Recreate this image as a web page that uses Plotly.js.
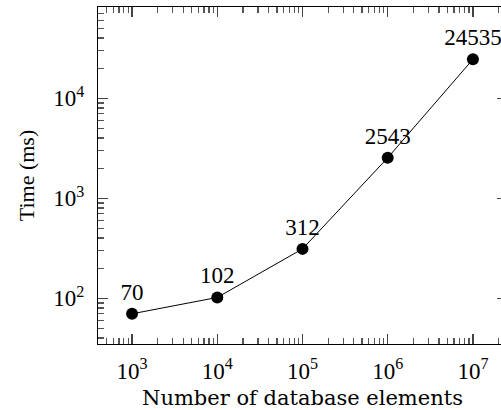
<!DOCTYPE html>
<html>
<head>
<meta charset="utf-8">
<script src="https://cdn.plot.ly/plotly-3.0.1.min.js"></script>
<style>
html,body{margin:0;padding:0;overflow:hidden;background:#fff;}
#chart{width:510px;height:410px;}
</style>
</head>
<body>
<div id="chart"></div>
<script>
const elements = [1e3, 1e4, 1e5, 1e6, 1e7];
const timesMs = [70, 102, 312, 2543, 24535];
const xTickVals = [1e3, 1e4, 1e5, 1e6, 1e7];
const xTickText = ["10<sup>3</sup>", "10<sup>4</sup>", "10<sup>5</sup>", "10<sup>6</sup>", "10<sup>7</sup>"];
const yTickVals = [1e2, 1e3, 1e4];
const yTickText = ["10<sup>2</sup>", "10<sup>3</sup>", "10<sup>4</sup>"];
const minorDigits = [2, 3, 4, 5, 6, 7, 8, 9];
const xDecades = [100, 1e3, 1e4, 1e5, 1e6, 1e7];
const yDecades = [10, 100, 1e3, 1e4];

function minorVals(decades) {
  const out = [];
  decades.forEach(d => minorDigits.forEach(m => out.push(m * d)));
  return out;
}

const FONT = "Liberation Serif";
const X_RANGE = [2.6, 7.4];
const Y_RANGE = [1.543, 4.913];

const trace = {
  x: elements,
  y: timesMs,
  mode: "lines+markers+text",
  type: "scatter",
  line: {color: "#000", width: 1},
  marker: {color: "#000", size: 12},
  text: timesMs.map(String),
  textposition: "top center",
  textfont: {family: FONT, size: 23, color: "#000"},
  cliponaxis: false,
  hoverinfo: "none"
};

// invisible helper trace so the minor-tick overlay axes are drawn
const helper = {
  x: elements,
  y: timesMs,
  xaxis: "x2",
  yaxis: "y2",
  mode: "markers",
  type: "scatter",
  marker: {opacity: 0, size: 1},
  hoverinfo: "none"
};

const axisCommon = {
  type: "log",
  showgrid: false,
  zeroline: false,
  showline: true,
  linecolor: "#000",
  linewidth: 1.2,
  mirror: "allticks",
  ticks: "inside",
  ticklen: 10,
  tickwidth: 1.3,
  tickcolor: "#444",
  tickmode: "array",
  tickfont: {family: FONT, size: 23, color: "#000"}
};

const minorAxis = {
  type: "log",
  showgrid: false,
  zeroline: false,
  showline: false,
  showticklabels: false,
  mirror: "allticks",
  ticks: "inside",
  ticklen: 6,
  tickwidth: 1.3,
  tickcolor: "#555",
  tickmode: "array"
};

const layout = {
  width: 510,
  height: 410,
  margin: {l: 98, r: 3, t: 7, b: 66},
  paper_bgcolor: "#fff",
  plot_bgcolor: "#fff",
  showlegend: false,
  font: {family: FONT, color: "#000"},
  xaxis: Object.assign({}, axisCommon, {
    range: X_RANGE,
    tickvals: xTickVals,
    ticktext: xTickText,
    ticklabelstandoff: 6,
    title: {text: "Number of database elements", font: {family: "DejaVu Serif", size: 21, color: "#000"}, standoff: 8}
  }),
  yaxis: Object.assign({}, axisCommon, {
    range: Y_RANGE,
    tickvals: yTickVals,
    ticktext: yTickText,
    ticklabelstandoff: 8,
    title: {text: "Time (ms)", font: {family: FONT, size: 22, color: "#000"}, standoff: 12}
  }),
  xaxis2: Object.assign({}, minorAxis, {
    overlaying: "x", anchor: "y", side: "bottom",
    range: X_RANGE, tickvals: minorVals(xDecades), ticktext: minorVals(xDecades).map(() => "")
  }),
  yaxis2: Object.assign({}, minorAxis, {
    overlaying: "y", anchor: "x", side: "left",
    range: Y_RANGE, tickvals: minorVals(yDecades), ticktext: minorVals(yDecades).map(() => "")
  })
};

Plotly.newPlot("chart", [trace, helper], layout, {staticPlot: true, displayModeBar: false});
</script>
</body>
</html>
